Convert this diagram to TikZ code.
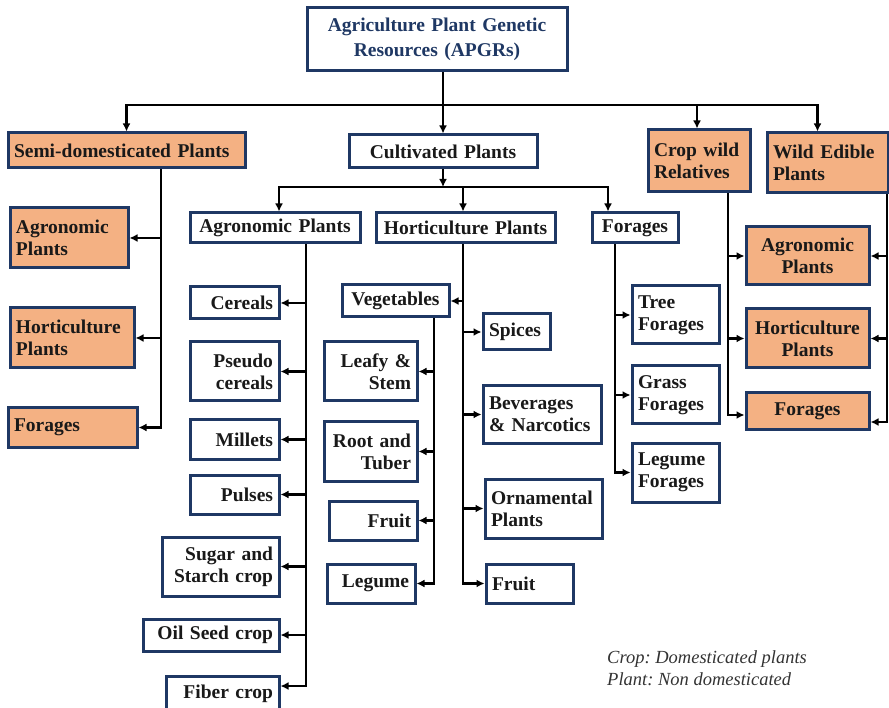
\documentclass[tikz,border=0pt]{standalone}
\usepackage{fontspec}
\setmainfont{Liberation Serif}
\usetikzlibrary{arrows.meta}
\frenchspacing

\definecolor{boxblue}{HTML}{1F3864}
\definecolor{boxorange}{HTML}{F4B183}
\definecolor{notegray}{HTML}{333333}

\tikzset{
    box/.style = {draw = boxblue, line width = 3pt, fill = white, inner xsep = 6pt, inner ysep = 0pt,
        font = \fontsize{19.5}{22}\selectfont\bfseries, text = black!90},
    obox/.style = {box, fill = boxorange},
    bx/.style n args={3}{minimum width = #1pt, minimum height = #2pt, text width = #3pt},
    link/.style = {line width = 2.5pt},
    arr/.style = {link, -{Latex[length = 8pt, width = 8pt]}},
    note/.style = {anchor = base west, inner sep = 0pt, text = notegray, font = \fontsize{18.5}{22}\selectfont\itshape}
}

\begin{document}
\begin{tikzpicture}[x = 1pt, y = -1pt]
        \useasboundingbox (0, 0) rectangle (889, 708);

        \node (apgr) at (437, 39.5) [box, bx = {260}{63}{248}, align = center, text = boxblue,
            font = \fontsize{19.5}{25}\selectfont\bfseries] {Agriculture Plant Genetic\\Resources (APGRs)};

        \node (semi) at (126.5, 150.5) [obox, bx = {237}{35}{225}, align = left] {Semi-domesticated Plants};
        \node (cult) at (443, 151.5) [box, bx = {188}{33}{176}, align = center] {Cultivated Plants};
        \node (cwr) at (699, 161) [obox, bx = {102}{62}{90}, align = left] {Crop wild\\Relatives};
        \node (wep) at (827.5, 163) [obox, bx = {121}{60}{109}, align = left] {Wild Edible\\Plants};

        \node (sagro) at (69, 238) [obox, bx = {118}{60}{106}, align = left] {Agronomic\\Plants};
        \node (short) at (72, 338) [obox, bx = {124}{60}{112}, align = left] {Horticulture\\Plants};
        \node (sfor) at (72.5, 427.5) [obox, bx = {129}{39}{117}, align = left] {Forages};

        \node (agro) at (275, 228) [box, bx = {170}{30}{158}, align = center] {Agronomic Plants};
        \node (hort) at (465.5, 228) [box, bx = {179}{30}{167}, align = center] {Horticulture Plants};
        \node (forc) at (635, 228) [box, bx = {86}{30}{74}, align = center] {Forages};

        \node (cereals) at (234.5, 303) [box, bx = {89}{32}{77}, align = right] {Cereals};
        \node (pseudo) at (234.5, 371.5) [box, bx = {89}{59}{77}, align = right] {Pseudo\\cereals};
        \node (millets) at (234.5, 439.5) [box, bx = {89}{39}{77}, align = right] {Millets};
        \node (pulses) at (234.5, 494.5) [box, bx = {89}{39}{77}, align = right] {Pulses};
        \node (sugar) at (220.5, 566.5) [box, bx = {117}{59}{105}, align = right] {Sugar and\\Starch crop};
        \node (oil) at (211, 635) [box, bx = {136}{32}{124}, align = right] {Oil Seed crop};
        \node (fiber) at (222.5, 694) [box, bx = {113}{36}{101}, align = right] {Fiber crop};

        \node (veg) at (395.5, 301) [box, bx = {107}{32}{95}, align = center] {Vegetables};
        \node (leafy) at (370.5, 371.5) [box, bx = {93}{59}{81}, align = right] {Leafy \&\\Stem};
        \node (root) at (370.5, 451.5) [box, bx = {93}{59}{81}, align = right] {Root and\\Tuber};
        \node (vfruit) at (373, 520.5) [box, bx = {88}{39}{76}, align = right] {Fruit};
        \node (legume) at (371, 583.5) [box, bx = {88}{39}{76}, align = right] {Legume};

        \node (spices) at (516.5, 332) [box, bx = {67}{36}{55}, align = left] {Spices};
        \node (bev) at (542, 414.5) [box, bx = {118}{57}{106}, align = left] {Beverages\\\& Narcotics};
        \node (orn) at (543.5, 508.5) [box, bx = {117}{59}{105}, align = left] {Ornamental\\Plants};
        \node (hfruit) at (529.5, 583.5) [box, bx = {87}{39}{75}, align = left] {Fruit};

        \node (tree) at (675.5, 315) [box, bx = {87}{58}{75}, align = left] {Tree\\Forages};
        \node (grass) at (675.5, 395) [box, bx = {87}{58}{75}, align = left] {Grass\\Forages};
        \node (legf) at (675.5, 472.5) [box, bx = {87}{59}{75}, align = left] {Legume\\Forages};

        \node (ragro) at (807.5, 256) [obox, bx = {123}{58}{111}, align = center] {Agronomic\\Plants};
        \node (rhort) at (807.5, 338.5) [obox, bx = {123}{59}{111}, align = center] {Horticulture\\Plants};
        \node (rfor) at (807.5, 411.5) [obox, bx = {123}{37}{111}, align = center] {Forages};

        \coordinate (top) at (443, 105);
        \draw [link] (apgr.south -| top) -- (top);
        \draw [arr] (top) -- (cult);
        \draw [arr] (top) -| (semi);
        \draw [arr] (top) -| ([xshift = -2pt]cwr.north);
        \draw [arr] (top) -| ([xshift = -10pt]wep.north);

        \coordinate (mid) at (443, 187);
        \draw [arr] (cult) -- (mid);
        \draw [arr] (mid) -| ([xshift = 4pt]agro.north);
        \draw [arr] (mid) -| ([xshift = -2.5pt]hort.north);
        \draw [arr] (mid) -| ([xshift = -27pt]forc.north);

        \foreach \n in {sagro, short, sfor}
            \draw [arr] ([xshift = 34.5pt]semi.south) |- (\n);

        \foreach \n in {cereals, pseudo, millets, pulses, sugar, oil}
            \draw [arr] ([xshift = 31pt]agro.south) |- (\n);
        \draw [arr] ([xshift = 31pt]agro.south) |- ([yshift = 8pt]fiber.east);

        \foreach \n in {veg, spices, bev, orn, hfruit}
            \draw [arr] ([xshift = -2.5pt]hort.south) |- (\n);

        \foreach \n in {leafy, root, vfruit, legume}
            \draw [arr] ([xshift = 38.5pt]veg.south) |- (\n);

        \foreach \n in {tree, grass, legf}
            \draw [arr] ([xshift = -20pt]forc.south) |- (\n);

        \draw [arr] ([xshift = 29pt]cwr.south) |- (ragro);
        \draw [arr] ([xshift = 29pt]cwr.south) |- (rhort);
        \draw [arr] ([xshift = 29pt]cwr.south) |- ([yshift = -3.5pt]rfor.west);
        \draw [arr] ([xshift = 59.5pt]wep.south) |- (ragro);
        \draw [arr] ([xshift = 59.5pt]wep.south) |- (rhort);
        \draw [arr] ([xshift = 59.5pt]wep.south) |- ([yshift = -10.5pt]rfor.east);

        \node (crop) at (607, 663) [note] {Crop: Domesticated plants};
        \node (plant) at (607, 685) [note] {Plant: Non domesticated};
    \end{tikzpicture}
\end{document}
